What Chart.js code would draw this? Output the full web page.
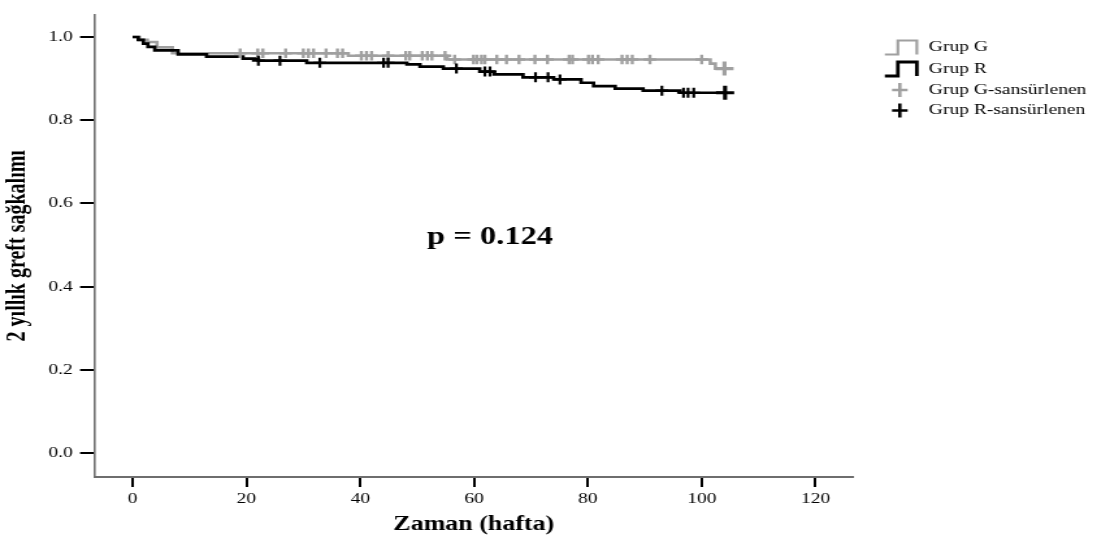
<!DOCTYPE html>
<html>
<head>
<meta charset="utf-8">
<script src="https://cdn.jsdelivr.net/npm/chart.js@4"></script>
<style>
  html, body { margin: 0; padding: 0; background: #fff; overflow: hidden; }
  canvas { display: block; }
</style>
</head>
<body>
<canvas id="km"></canvas>
<script>
// tick labels
const xTicks = [0, 20, 40, 60, 80, 100, 120];
const yTicks = [0.0, 0.2, 0.4, 0.6, 0.8, 1.0];

// Kaplan-Meier steps: event time (weeks) and survival after the event
const grupGTimes = [0, 1.2, 2.6, 4.3, 7.0, 37.9, 55.3, 101.5, 102.4, 104.0];
const grupGSurv  = [1.0, 0.993, 0.988, 0.975, 0.961, 0.955, 0.946, 0.936, 0.924, 0.924];
const grupRTimes = [0, 1.0, 1.9, 2.7, 3.9, 8.0, 13.0, 19.4, 22.1, 30.6, 48.2, 50.5, 54.6,
                    61.0, 63.5, 68.6, 74.0, 78.8, 81.0, 84.8, 89.7, 96.2, 104.1];
const grupRSurv  = [1.0, 0.993, 0.984, 0.976, 0.968, 0.958, 0.953, 0.948, 0.943, 0.938, 0.934, 0.929, 0.924,
                    0.917, 0.910, 0.903, 0.898, 0.890, 0.882, 0.876, 0.871, 0.866, 0.866];

// censored observations (weeks)
const grupGCensored = [18.9, 22.0, 22.9, 26.9, 30.0, 30.9, 31.8, 34.0, 36.0, 36.9, 40.2, 41.1, 42.0,
                       44.9, 48.0, 48.7, 50.9, 51.8, 52.6, 54.9, 56.6, 59.9, 60.5, 61.3, 61.9, 64.0,
                       65.7, 67.9, 70.7, 72.9, 76.7, 77.3, 80.1, 80.8, 81.8, 86.0, 86.9, 87.8, 90.9,
                       100.0, 104.0];
const grupRCensored = [22.1, 25.9, 32.9, 44.1, 44.9, 56.9, 61.9, 62.8, 70.8, 73.0, 75.1, 93.0,
                       96.8, 97.6, 98.6, 104.1];

const seriesNames = ['Grup G', 'Grup R', 'Grup G-sansürlenen', 'Grup R-sansürlenen'];
const pLabel = 'p = 0.124';

const GRAY = '#a0a0a0';
const BLACK = '#000000';
const FONT = '"Liberation Serif", "Times New Roman", serif';

// the original picture is stretched sideways, so the canvas is drawn narrower and widened by CSS
const STRETCH = 1.3;
const W = Math.round(1097 / STRETCH), H = 543;

function survAt(times, surv, t) {
    let s = surv[0];
    for (let i = 0; i < times.length; i++) if (times[i] <= t) s = surv[i];
    return s;
}
const toPoints = (xs, ys) => xs.map((t, i) => ({ x: t, y: ys[i] }));
const censorPoints = (cens, times, surv) => cens.map(t => ({ x: t, y: survAt(times, surv, t) }));

const lastBig = (small, big) => ctx => ctx.dataIndex === ctx.dataset.data.length - 1 ? big : small;

// legend + p value
const extraText = {
    id: 'extraText',
    afterDraw(chart) {
        const ctx = chart.ctx;
        const { x, y } = chart.scales;
        ctx.save();
        ctx.fillStyle = BLACK;
        ctx.font = 'bold 25px ' + FONT;
        ctx.textAlign = 'center';
        ctx.textBaseline = 'middle';
        ctx.fillText(pLabel, x.getPixelForValue(62.8), y.getPixelForValue(0.518));

        const rows = [47.5, 69, 90, 110.5];
        const colors = [GRAY, BLACK, GRAY, BLACK];
        const x0 = 885 / STRETCH, x1 = 898 / STRETCH, x2 = 917 / STRETCH, xc = 900 / STRETCH;
        ctx.font = '15px ' + FONT;
        ctx.textAlign = 'left';
        seriesNames.forEach((name, i) => {
            const cy = rows[i];
            ctx.strokeStyle = colors[i];
            ctx.beginPath();
            if (i < 2) {
                ctx.lineWidth = i === 0 ? 2.2 : 2.8;
                ctx.moveTo(x0, cy + 7); ctx.lineTo(x1, cy + 7); ctx.lineTo(x1, cy - 7);
                ctx.lineTo(x2, cy - 7); ctx.lineTo(x2, cy + 7);
            } else {
                ctx.lineWidth = 2.6;
                ctx.moveTo(xc - 6, cy); ctx.lineTo(xc + 6, cy);
                ctx.moveTo(xc, cy - 7); ctx.lineTo(xc, cy + 7);
            }
            ctx.stroke();
            ctx.fillStyle = '#000';
            ctx.fillText(name, 929 / STRETCH, cy);
        });
        ctx.restore();
    }
};

const canvas = document.getElementById('km');
canvas.width = W;
canvas.height = H;
canvas.style.width = '1097px';
canvas.style.height = H + 'px';

new Chart(canvas, {
    type: 'line',
    data: {
        datasets: [
            {
                label: seriesNames[3],
                data: censorPoints(grupRCensored, grupRTimes, grupRSurv),
                showLine: false,
                pointStyle: 'cross',
                pointRadius: lastBig(5, 7),
                pointBorderWidth: lastBig(2.2, 3.2),
                borderColor: BLACK,
                backgroundColor: BLACK
            },
            {
                label: seriesNames[2],
                data: censorPoints(grupGCensored, grupGTimes, grupGSurv),
                showLine: false,
                pointStyle: 'cross',
                pointRadius: lastBig(4.8, 7),
                pointBorderWidth: lastBig(2.4, 3.2),
                borderColor: GRAY,
                backgroundColor: GRAY
            },
            {
                label: seriesNames[1],
                data: toPoints(grupRTimes, grupRSurv),
                stepped: 'before',
                borderColor: BLACK,
                borderWidth: 2.7,
                pointRadius: 0,
                fill: false
            },
            {
                label: seriesNames[0],
                data: toPoints(grupGTimes, grupGSurv),
                stepped: 'before',
                borderColor: GRAY,
                borderWidth: 2.6,
                pointRadius: 0,
                fill: false
            }
        ]
    },
    options: {
        responsive: false,
        devicePixelRatio: 1,
        animation: false,
        events: [],
        layout: { padding: { top: 12, right: W - 852.7 / STRETCH, left: 0, bottom: 0 } },
        plugins: { legend: { display: false }, tooltip: { enabled: false } },
        scales: {
            x: {
                type: 'linear',
                min: -6.6,
                max: 126.5,
                afterBuildTicks: s => { s.ticks = xTicks.map(v => ({ value: v })); },
                afterFit: s => { s.height = H - 477; },
                border: { display: true, color: '#6e6e6e', width: 2 },
                grid: { display: true, drawOnChartArea: false, color: '#000', lineWidth: 2, tickLength: 10 },
                ticks: { color: '#000', font: { family: FONT, size: 15 }, padding: 3, maxRotation: 0 },
                title: {
                    display: true,
                    text: 'Zaman (hafta)',
                    color: '#000',
                    font: { family: FONT, size: 20, weight: 'bold' },
                    padding: { top: 0, bottom: 6 }
                }
            },
            y: {
                type: 'linear',
                min: -0.057,
                max: 1.054,
                afterBuildTicks: s => { s.ticks = yTicks.map(v => ({ value: v })); },
                afterFit: s => { s.width = 95 / STRETCH; },
                border: { display: true, color: '#6e6e6e', width: 1.6 },
                grid: { display: true, drawOnChartArea: false, color: '#000', lineWidth: 2, tickLength: 11.5 },
                ticks: { color: '#000', font: { family: FONT, size: 15 }, padding: 5.5,
                         callback: v => v.toFixed(1) },
                title: {
                    display: true,
                    text: '2 yıllık greft sağkalımı',
                    color: '#000',
                    font: { family: FONT, size: 20, weight: 'bold' },
                    padding: { top: 2, bottom: 0 }
                }
            }
        }
    },
    plugins: [extraText]
});
</script>
</body>
</html>
